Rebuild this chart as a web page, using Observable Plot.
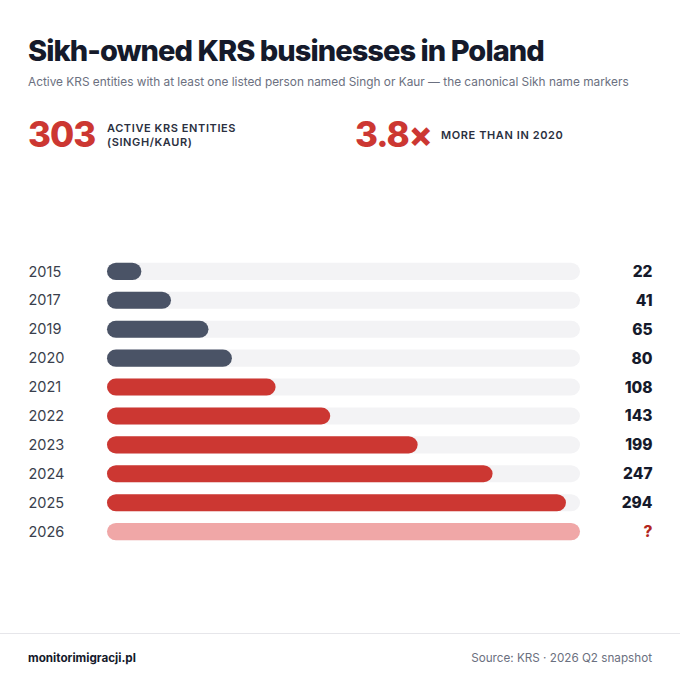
<!DOCTYPE html>
<html>
<head>
<meta charset="utf-8">
<script src="https://cdn.jsdelivr.net/npm/d3@7"></script>
<script src="https://cdn.jsdelivr.net/npm/@observablehq/plot@0.6"></script>
<style>
  html, body { margin: 0; padding: 0; background: #fff; }
  #wrap { position: relative; width: 680px; height: 680px; font-family: Inter, "Noto Sans", sans-serif; color: #151a2b; overflow: hidden; }
  .abs { position: absolute; white-space: nowrap; }
  #title { left: 28px; top: 33px; font-size: 29px; font-weight: 800; letter-spacing: -0.95px; }
  #subtitle { left: 28px; top: 75px; font-size: 11.85px; color: #6b7080; }
  .kpi { font-size: 35px; font-weight: 800; color: #cc3732; letter-spacing: -1px; }
  .kpilab { font-size: 11px; font-weight: 600; letter-spacing: 0.6px; color: #2b3040; line-height: 14px; }
  #chart { position: absolute; left: 0; top: 250px; }
  #rule { left: 0; top: 633px; width: 680px; height: 1px; background: #e6e6ea; }
  #brand { left: 28px; top: 651px; font-size: 11.7px; font-weight: 700; color: #151a2b; }
  #source { right: 28px; top: 651px; font-size: 11.7px; color: #6b7080; }
</style>
</head>
<body>
<div id="wrap">
  <div id="title" class="abs">Sikh-owned KRS businesses in Poland</div>
  <div id="subtitle" class="abs">Active KRS entities with at least one listed person named Singh or Kaur — the canonical Sikh name markers</div>
  <div class="abs kpi" style="left:28px; top:113px;">303</div>
  <div class="abs kpilab" style="left:107px; top:121px;">ACTIVE KRS ENTITIES<br>(SINGH/KAUR)</div>
  <div class="abs kpi" style="left:355px; top:113px;">3.8×</div>
  <div class="abs kpilab" style="left:441px; top:128px;">MORE THAN IN 2020</div>
  <div id="chart"></div>
  <div id="rule" class="abs"></div>
  <div id="brand" class="abs">monitorimigracji.pl</div>
  <div id="source" class="abs">Source: KRS · 2026 Q2 snapshot</div>
</div>
<script>
const years  = ["2015","2017","2019","2020","2021","2022","2023","2024","2025","2026"];
const counts = [22, 41, 65, 80, 108, 143, 199, 247, 294, null];
const valueLabels = ["22","41","65","80","108","143","199","247","294","?"];
const trackMax = 303;

const rows = years.map((y, i) => ({
  year: y,
  count: counts[i],
  label: valueLabels[i],
  group: counts[i] == null ? "pending" : (+y <= 2020 ? "before" : "after")
}));

const colorOf = {before: "#4a5366", after: "#cc3732", pending: "#f0a7a7"};

const chart = Plot.plot({
  width: 680,
  height: 310,
  marginLeft: 107,
  marginRight: 100,
  marginTop: 0,
  marginBottom: 0,
  x: {domain: [0, trackMax], axis: null},
  y: {domain: years, range: [1, 302], padding: 0.41, round: false, axis: null},
  style: {fontFamily: "Inter, 'Noto Sans', sans-serif", background: "transparent"},
  marks: [
    Plot.barX(rows, {y: "year", x1: 0, x2: trackMax, fill: "#f3f3f5", rx: 9}),
    Plot.barX(rows.filter(d => d.count != null), {y: "year", x1: 0, x2: "count", fill: d => colorOf[d.group], rx: 9}),
    Plot.barX(rows.filter(d => d.count == null), {y: "year", x1: 0, x2: trackMax, fill: colorOf.pending, rx: 9}),
    Plot.text(rows, {y: "year", text: "year", frameAnchor: "left", dx: -79, textAnchor: "start", fontSize: 14.5, fill: "#3a3f4d"}),
    Plot.text(rows, {y: "year", text: "label", frameAnchor: "right", dx: 72, textAnchor: "end", fontSize: 15.5, fontWeight: 800,
      fill: d => d.count == null ? "#b3261e" : "#151a2b"})
  ]
});
document.getElementById("chart").appendChild(chart);
</script>
</body>
</html>
